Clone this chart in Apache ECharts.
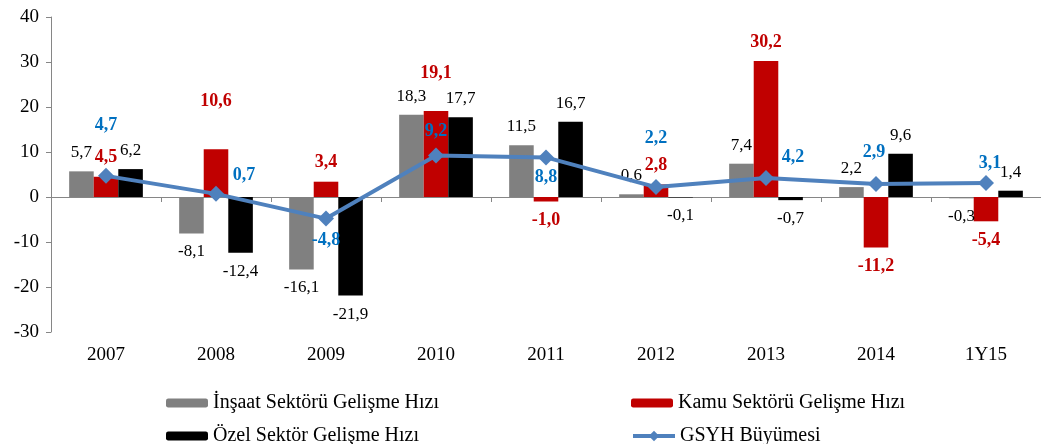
<!DOCTYPE html>
<html>
<head>
<meta charset="utf-8">
<script src="https://cdn.jsdelivr.net/npm/echarts@6/dist/echarts.min.js"></script>
<style>html,body{margin:0;padding:0;background:#fff;}#c{width:1041px;height:444px;}</style>
</head>
<body>
<div id="c"></div>
<script>
var categories = ['2007','2008','2009','2010','2011','2012','2013','2014','1Y15'];
var insaat = [5.7, -8.1, -16.1, 18.3, 11.5, 0.6, 7.4, 2.2, -0.3];
var kamu = [4.5, 10.6, 3.4, 19.1, -1.0, 2.8, 30.2, -11.2, -5.4];
var ozel = [6.2, -12.4, -21.9, 17.7, 16.7, -0.1, -0.7, 9.6, 1.4];
var gsyh = [4.7, 0.7, -4.8, 9.2, 8.8, 2.2, 4.2, 2.9, 3.1];
var yTicks = [-30, -20, -10, 0, 10, 20, 30, 40];
var names = ['İnşaat Sektörü Gelişme Hızı','Kamu Sektörü Gelişme Hızı','Özel Sektör Gelişme Hızı','GSYH Büyümesi'];

// label layout (not data)
var kamuOffsets = [[0,0],[0,-29],[0,0],[0,-19],[0,0],[0,0],[0,0],[0,0],[0,0]];
var gsyhPos = ['top','top','bottom','top','bottom','top','top','top','top'];
var gsyhOffsets = [[0,-29],[28,3],[0,0],[0,-2],[0,-2],[0,-27],[27,1],[-2,-10],[4,2]];

var FONT = '"Liberation Serif","Times New Roman",serif';
function fmt(v){ return v.toFixed(1).replace('.', ','); }

function barData(vals, offsets){
  return vals.map(function(v,i){
    return {value: v, label: {position: v >= 0 ? 'top' : 'bottom', offset: offsets ? offsets[i] : [0,0]}};
  });
}

var chart = echarts.init(document.getElementById('c'));
var blackLabel = {show:true, distance:10, color:'#000', fontFamily:FONT, fontSize:17,
  formatter:function(p){return fmt(p.value);}};
var redLabel = {show:true, distance:10, color:'#C00000', fontFamily:FONT, fontSize:18, fontWeight:'bold',
  formatter:function(p){return fmt(p.value);}};

function leg(name, left, top, h, extra){
  var o = {data:[name], left:left, top:top, itemWidth:42, itemHeight:h, itemGap:0,
    textStyle:{fontFamily:FONT, fontSize:20, color:'#000'}, selectedMode:false};
  if (extra) for (var k in extra) o[k] = extra[k];
  return o;
}

chart.setOption({
  animation:false,
  backgroundColor:'#fff',
  grid:{left:51, top:17, width:995, height:315, containLabel:false},
  legend:[
    leg(names[0],161,388,9),
    leg(names[1],626,388,9),
    leg(names[2],161,421,9),
    leg(names[3],626,421,13,{lineStyle:{width:4, color:'#4F81BD'}, itemStyle:{color:'#4F81BD'}})
  ],
  xAxis:[
    {type:'category', data:categories, position:'bottom',
     axisLine:{show:false, onZero:false}, axisTick:{show:false},
     axisLabel:{margin:14, fontFamily:FONT, fontSize:19, color:'#000'}},
    {type:'category', data:categories, position:'bottom',
     axisLine:{show:true, onZero:true, lineStyle:{color:'#868686', width:1}},
     axisTick:{show:true, length:5, lineStyle:{color:'#868686'}},
     axisLabel:{show:false}}
  ],
  yAxis:{type:'value', min:yTicks[0], max:yTicks[yTicks.length-1], interval:10,
    axisLine:{show:true, lineStyle:{color:'#868686'}},
    axisTick:{show:true, length:5, lineStyle:{color:'#868686'}},
    splitLine:{show:false},
    axisLabel:{margin:12, fontFamily:FONT, fontSize:19, color:'#000'}},
  series:[
    {name:names[0], type:'bar', xAxisIndex:0, data:barData(insaat), barGap:'0%', barCategoryGap:'33%',
     itemStyle:{color:'#808080'}, label:blackLabel},
    {name:names[1], type:'bar', xAxisIndex:0, data:barData(kamu, kamuOffsets), barGap:'0%', barCategoryGap:'33%',
     itemStyle:{color:'#C00000'}, label:redLabel},
    {name:names[2], type:'bar', xAxisIndex:0, data:barData(ozel), barGap:'0%', barCategoryGap:'33%',
     itemStyle:{color:'#000000'}, label:blackLabel},
    {name:names[3], type:'line', xAxisIndex:0, z:5,
     data:gsyh.map(function(v,i){return {value:v, label:{position:gsyhPos[i], offset:gsyhOffsets[i]}};}),
     symbol:'diamond', symbolSize:16,
     lineStyle:{color:'#4F81BD', width:4}, itemStyle:{color:'#4F81BD'},
     label:{show:true, color:'#0070C0', fontFamily:FONT, fontSize:18, fontWeight:'bold',
       formatter:function(p){return fmt(p.value);}}}
  ]
});
</script>
</body>
</html>
